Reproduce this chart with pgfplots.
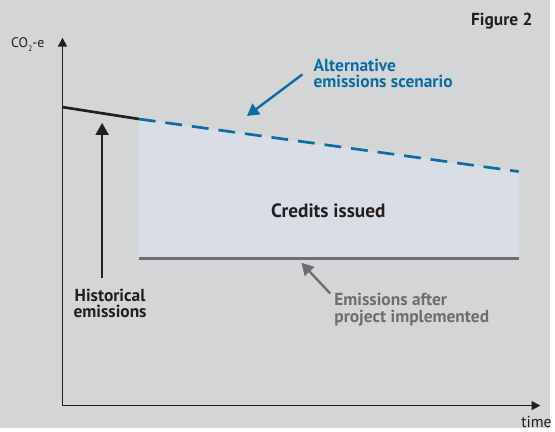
\documentclass[border=0pt]{standalone}
\usepackage{pgfplots}
\pgfplotsset{compat=1.18}
\usepackage{fontspec}
\setmainfont{PT Sans}
\usetikzlibrary{arrows.meta}
\definecolor{bgc}{HTML}{D4D5D6}
\definecolor{fillc}{HTML}{D9DDE6}
\definecolor{bluec}{HTML}{0A6EA0}
\definecolor{grayc}{HTML}{6D6E70}
\definecolor{darkc}{HTML}{231F20}
\begin{document}
\begin{tikzpicture}
\begin{axis}[width=555bp,height=432bp,scale only axis,
  xmin=0,xmax=555,ymin=0,ymax=432,axis lines=none,clip=false]
\fill[bgc] (axis cs:0,0) rectangle (axis cs:555,432);
% credits area
\addplot[fill=fillc,draw=none] coordinates {(140,312) (523,259) (523,171) (140,171)} -- cycle;
% historical
\addplot[darkc,line width=2.7bp] coordinates {(63,324) (140,312)};
% alternative scenario
\addplot[bluec,line width=2.7bp,dash pattern=on 17bp off 10bp] coordinates {(140,312) (523,259)};
% after project
\addplot[grayc,line width=2.7bp] coordinates {(140,171) (523,171)};
% axes
\draw[darkc,line width=1.8bp,-{Triangle[length=9bp,width=9bp]}] (axis cs:63,23) -- (axis cs:63,394);
\draw[darkc,line width=1.8bp,-{Triangle[length=9bp,width=9bp]}] (axis cs:63,23) -- (axis cs:545,23);
% arrows
\draw[darkc,line width=2.4bp,-{Triangle[length=12bp,width=13bp]}] (axis cs:103,152) -- (axis cs:103,308);
\draw[bluec,line width=2.4bp,-{Triangle[length=12bp,width=13bp]}] (axis cs:305,357) -- (axis cs:249,315);
\draw[grayc,line width=2.4bp,-{Triangle[length=12bp,width=13bp]}] (axis cs:333,136) -- (axis cs:304,167);
% texts
\node[font=\fontsize{17.6}{17}\selectfont\bfseries,text=bluec,align=left,anchor=west,inner sep=0pt] at (axis cs:316,358) {Alternative\\emissions scenario};
\node[font=\fontsize{17.6}{17}\selectfont\bfseries,text=grayc,align=left,anchor=west,inner sep=0pt] at (axis cs:337,120) {Emissions after\\project implemented};
\node[font=\fontsize{17.6}{17}\selectfont\bfseries,text=darkc,align=center] at (axis cs:111,126) {Historical\\emissions};
\node[font=\fontsize{19.5}{22}\selectfont\bfseries,text=darkc] at (axis cs:331,219) {Credits issued};
\node[font=\fontsize{17.6}{17}\selectfont\bfseries,text=darkc] at (axis cs:506,411) {Figure 2};
\node[font=\fontsize{14}{15}\selectfont,text=darkc] at (axis cs:28,387) {CO\raisebox{-0.6ex}{\fontsize{8}{8}\selectfont 2}-e};
\node[font=\fontsize{16}{16}\selectfont,text=darkc] at (axis cs:541,6) {time};
\end{axis}
\end{tikzpicture}
\end{document}
